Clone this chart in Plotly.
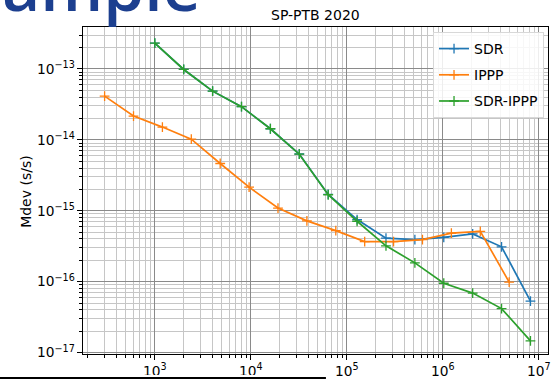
import plotly.graph_objects as go

# ---- data ----
tau_sdr = [1000, 2000, 4000, 8000, 16000, 32000, 64000, 128000, 256000, 512000,
           1024000, 2048000, 4096000, 8192000]
mdev_sdr = [2.3e-13, 9.8e-14, 4.85e-14, 2.93e-14, 1.43e-14, 6.3e-15, 1.7e-15, 7.5e-16,
            4.1e-16, 3.9e-16, 4.2e-16, 4.7e-16, 3.1e-16, 5.3e-17]

tau_ippp = [300, 600, 1200, 2400, 4800, 9600, 19200, 38400, 76800, 153600, 307200,
            614400, 1228800, 2457600, 4915200]
mdev_ippp = [4.12e-14, 2.16e-14, 1.51e-14, 1.02e-14, 4.63e-15, 2.15e-15, 1.09e-15,
             7.2e-16, 5.24e-16, 3.67e-16, 3.67e-16, 3.92e-16, 4.82e-16, 5.13e-16, 9.87e-17]

tau_diff = [1000, 2000, 4000, 8000, 16000, 32000, 64000, 128000, 256000, 512000,
            1024000, 2048000, 4096000, 8192000]
mdev_diff = [2.3e-13, 9.8e-14, 4.85e-14, 2.93e-14, 1.43e-14, 6.26e-15, 1.68e-15, 7.1e-16,
             3.2e-16, 1.84e-16, 9.5e-17, 6.9e-17, 4.17e-17, 1.46e-17]

series_names = ["SDR", "IPPP", "SDR-IPPP"]
series_colors = ["#1f77b4", "#ff7f0e", "#2ca02c"]
title_text = "SP-PTB 2020"
ylabel_text = "Mdev (s/s)"
slide_text = "ample"

W, H = 552, 380
L, R, T, B = 83, 1, 27, 25
PW, PH = W - L - R, H - T - B


def px(x):
    return (x - L) / PW


def py(y):
    return (H - B - y) / PH


FONT = "DejaVu Sans"

fig = go.Figure()
for i, (xs, ys) in enumerate([(tau_sdr, mdev_sdr), (tau_ippp, mdev_ippp), (tau_diff, mdev_diff)]):
    fig.add_trace(go.Scatter(
        x=xs, y=ys, name=series_names[i], mode="lines+markers",
        legendgroup=series_names[i],
        line=dict(color=series_colors[i], width=1.7),
        marker=dict(symbol="cross-thin", size=7,
                    line=dict(color=series_colors[i], width=1.3)),
    ))

axis_common = dict(
    type="log", dtick=1, exponentformat="power", showexponent="all",
    showline=True, linecolor="black", linewidth=1, mirror=True,
    ticks="outside", ticklen=5, tickcolor="black", tickwidth=1,
    showgrid=True, gridcolor="#8a8a8a", gridwidth=1.4,
    zeroline=False, ticklabeloverflow="allow",
    tickfont=dict(family=FONT, size=11, color="black"),
    minor=dict(dtick="D1", ticks="outside", ticklen=3, tickcolor="black",
               showgrid=True, gridcolor="#c6c6c6", gridwidth=1.2),
)

fig.update_xaxes(range=[2.252, 7.096], **axis_common)
fig.update_yaxes(range=[-17.02, -12.41], **axis_common)

fig.update_layout(
    width=W, height=H,
    margin=dict(l=L, r=R, t=T, b=B),
    paper_bgcolor="white", plot_bgcolor="white",
    font=dict(family=FONT, color="black"),
    showlegend=True,
    legend=dict(
        x=px(547), y=py(32), xanchor="right", yanchor="top",
        bgcolor="rgba(255,255,255,0.85)", bordercolor="#d8d8d8", borderwidth=1,
        font=dict(family=FONT, size=14, color="black"),
        traceorder="grouped", tracegroupgap=5, itemwidth=30,
    ),
    annotations=[
        dict(text=title_text, xref="paper", yref="paper", x=px(317), y=py(15),
             xanchor="center", yanchor="middle", showarrow=False,
             font=dict(family=FONT, size=14, color="black")),
        dict(text=ylabel_text, xref="paper", yref="paper", x=px(26), y=py(192),
             xanchor="center", yanchor="middle", textangle=-90, showarrow=False,
             font=dict(family=FONT, size=14, color="black")),
        dict(text=slide_text, xref="paper", yref="paper", x=px(204), y=py(-15),
             xanchor="right", yanchor="middle", showarrow=False,
             font=dict(family="Open Sans", size=66, color="#1c3f8f", weight=600)),
    ],
    shapes=[
        dict(type="rect", xref="paper", yref="paper", layer="above",
             x0=px(-5), x1=px(328), y0=py(376), y1=py(383),
             fillcolor="white", line=dict(width=0)),
        dict(type="line", xref="paper", yref="paper", layer="above",
             x0=px(-5), x1=px(327.5), y0=py(379), y1=py(379),
             line=dict(color="black", width=2)),
    ],
)

fig.write_html("out.html")
